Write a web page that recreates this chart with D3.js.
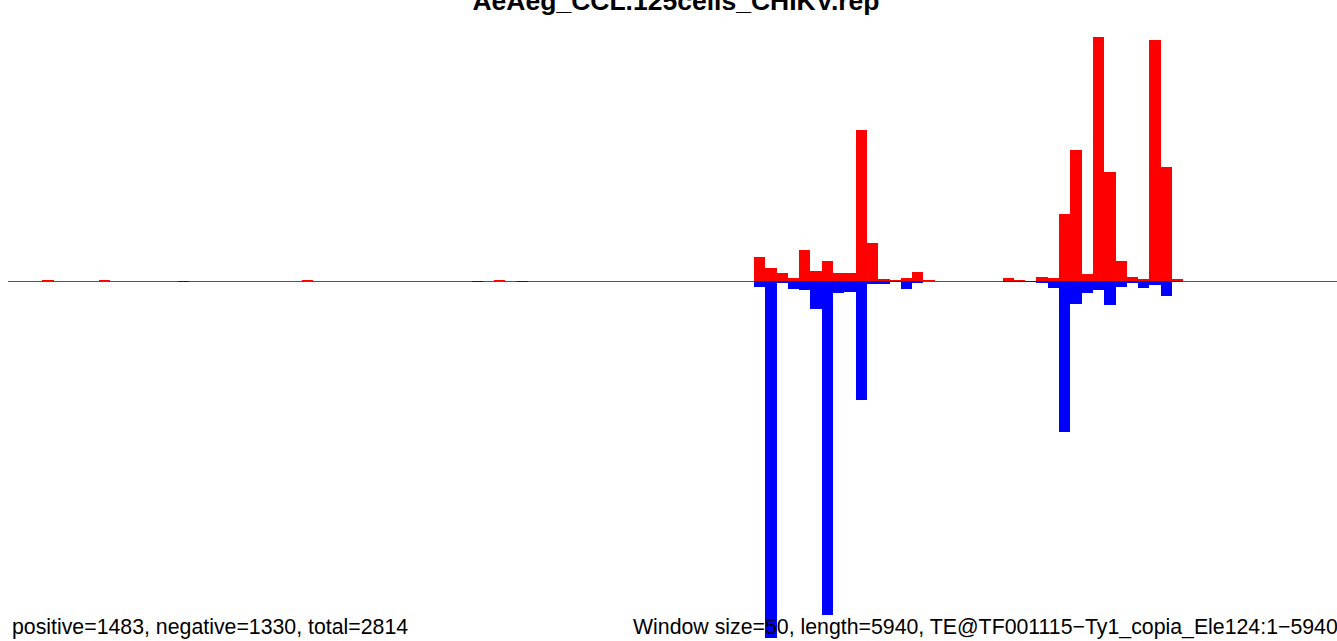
<!DOCTYPE html>
<html>
<head>
<meta charset="utf-8">
<script src="https://cdn.jsdelivr.net/npm/d3@7/dist/d3.min.js"></script>
<style>
  html, body { margin: 0; padding: 0; background: #fff; }
  svg { display: block; }
  text { font-family: "Liberation Sans", Arial, Helvetica, sans-serif; }
</style>
</head>
<body>
<svg id="chart" width="1337" height="641"></svg>
<script>
// ---- data ----
const title = "AeAeg_CCL.125cells_CHIKV.rep";
const windowSize = 50;
const teLength = 5940;
const nWindows = 119; // windows of 50 bp over 5940 bp
// positive (sense) read counts per window index
const posIndex = [3, 8, 26, 43, 66, 67, 68, 69, 70, 71, 72, 73, 74, 75, 76, 77, 78, 79, 80, 81,
                  88, 89, 91, 92, 93, 94, 95, 96, 97, 98, 99, 100, 101, 102, 103];
const posCount = [1, 1, 1, 1, 28, 15, 9, 3, 36, 12, 23, 9, 9, 173, 44, 2, 1, 3, 10, 1,
                  3, 1, 5, 3, 77, 151, 8, 281, 125, 23, 5, 2, 277, 131, 2];
// negative (antisense) read counts per window index
const negIndex = [15, 41, 45, 66, 67, 68, 69, 70, 71, 72, 73, 74, 75, 76, 77, 78, 79, 80,
                  88, 89, 90, 91, 92, 93, 94, 95, 96, 97, 98, 99, 100, 101, 102, 103];
const negCount = [1, 1, 1, 7, 410, 2, 9, 10, 32, 384, 14, 13, 137, 3, 3, 1, 9, 2,
                  1, 1, 1, 2, 8, 173, 26, 14, 10, 28, 7, 2, 8, 5, 17, 1];
const footerLeft = "positive=1483, negative=1330, total=2814";
const footerRight = "Window size=50, length=5940, TE@TF001115\u2212Ty1_copia_Ele124:1\u22125940";

// ---- drawing ----
const svg = d3.select("#chart");
const x = d3.scaleBand()
  .domain(d3.range(nWindows))
  .range([8.4, 8.4 + nWindows * 11.297])
  .padding(0);
const y = d3.scaleLinear().domain([-420, 420]).range([281 + 420 * 0.87, 281 - 420 * 0.87]);

svg.append("line")
  .attr("x1", x(0)).attr("x2", x.range()[1])
  .attr("y1", y(0) + 0.5).attr("y2", y(0) + 0.5)
  .attr("shape-rendering", "crispEdges")
  .attr("stroke", "#555").attr("stroke-width", 1);

const pos = posIndex.map((i, k) => ({ i, v: posCount[k] }));
const neg = negIndex.map((i, k) => ({ i, v: negCount[k] }));

svg.append("g").attr("shape-rendering", "crispEdges")
  .selectAll("rect").data(pos).join("rect")
  .attr("x", d => x(d.i)).attr("width", x.bandwidth())
  .attr("y", d => y(d.v)).attr("height", d => Math.max(1, y(0) - y(d.v)))
  .attr("fill", "#ff0000");

svg.append("g").attr("shape-rendering", "crispEdges")
  .selectAll("rect").data(neg).join("rect")
  .attr("x", d => x(d.i)).attr("width", x.bandwidth())
  .attr("y", y(0)).attr("height", d => Math.max(1, y(-d.v) - y(0)))
  .attr("fill", "#0000ff");

svg.append("text")
  .attr("x", 676).attr("y", 10)
  .attr("text-anchor", "middle")
  .attr("font-weight", "bold").attr("font-size", 26.5)
  .text(title);

svg.append("text")
  .attr("x", 12).attr("y", 634)
  .attr("font-size", 21.3)
  .attr("fill", "#000")
  .text(footerLeft);

svg.append("text")
  .attr("x", 633).attr("y", 634)
  .attr("font-size", 21.3)
  .attr("fill", "#000")
  .text(footerRight);
</script>
</body>
</html>
